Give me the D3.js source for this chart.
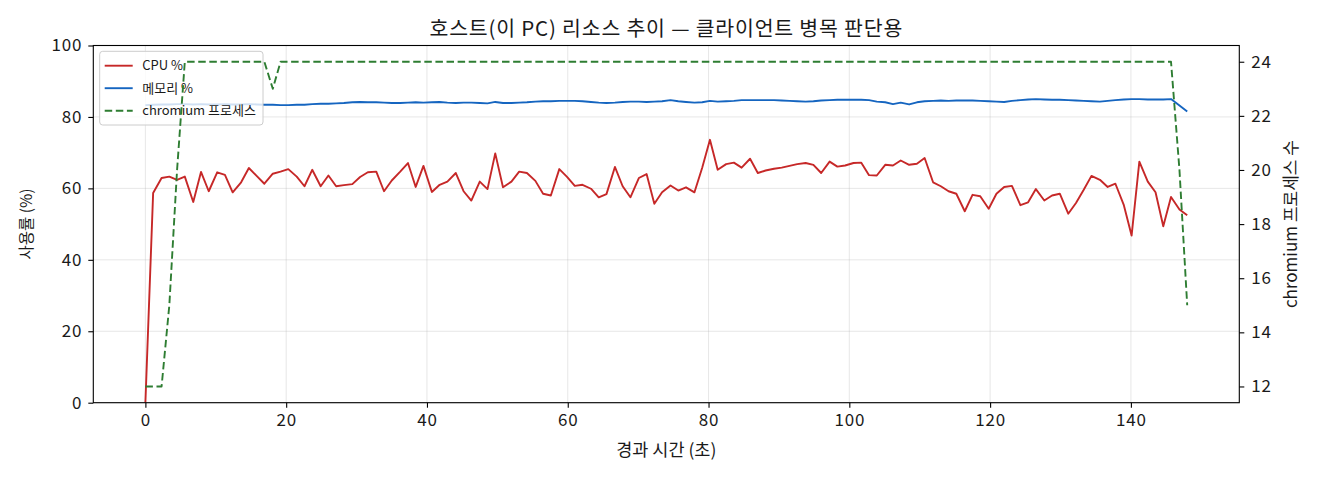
<!DOCTYPE html>
<html>
<head>
<meta charset="utf-8">
<script src="https://cdn.jsdelivr.net/npm/d3@7"></script>
<style>
    html, body { margin: 0; padding: 0; background: #fff; }
    svg { display: block; }
</style>
</head>
<body>
<svg id="chart"></svg>
<script>
// elapsed seconds of each sample
const elapsedSec = [
    0.0, 1.1, 2.3, 3.4, 4.5, 5.6, 6.8, 7.9, 9.0, 10.2,
    11.3, 12.4, 13.6, 14.7, 15.8, 16.9, 18.1, 19.2, 20.3, 21.5,
    22.6, 23.7, 24.9, 26.0, 27.1, 28.2, 29.4, 30.5, 31.6, 32.8,
    33.9, 35.0, 36.2, 37.3, 38.4, 39.5, 40.7, 41.8, 42.9, 44.1,
    45.2, 46.3, 47.5, 48.6, 49.7, 50.8, 52.0, 53.1, 54.2, 55.4,
    56.5, 57.6, 58.8, 59.9, 61.0, 62.1, 63.3, 64.4, 65.5, 66.7,
    67.8, 68.9, 70.1, 71.2, 72.3, 73.4, 74.6, 75.7, 76.8, 78.0,
    79.1, 80.2, 81.3, 82.5, 83.6, 84.7, 85.9, 87.0, 88.1, 89.3,
    90.4, 91.5, 92.6, 93.8, 94.9, 96.0, 97.2, 98.3, 99.4, 100.6,
    101.7, 102.8, 103.9, 105.1, 106.2, 107.3, 108.5, 109.6, 110.7, 111.9,
    113.0, 114.1, 115.2, 116.4, 117.5, 118.6, 119.8, 120.9, 122.0, 123.1,
    124.3, 125.4, 126.5, 127.7, 128.8, 129.9, 131.1, 132.2, 133.3, 134.4,
    135.6, 136.7, 137.8, 139.0, 140.1, 141.2, 142.4, 143.5, 144.6, 145.7,
    146.9, 148.0
];

const cpuPct = [
    0, 58.7, 62.9, 63.3, 62.4, 63.3, 56.2, 64.6, 59.2, 64.5,
    63.8, 58.9, 61.7, 65.7, 63.5, 61.3, 64.1, 64.7, 65.4, 63.3,
    60.6, 65.2, 60.6, 63.6, 60.6, 60.9, 61.2, 63.2, 64.5, 64.7,
    59.2, 62.2, 64.7, 67.1, 60.4, 66.3, 59.0, 61.0, 61.9, 64.3,
    59.2, 56.6, 61.9, 59.8, 69.8, 60.3, 61.9, 64.7, 64.3, 62.1,
    58.5, 58.0, 65.4, 63.2, 60.7, 61.0, 59.9, 57.5, 58.4, 66.0,
    60.6, 57.5, 62.9, 64.0, 55.7, 58.9, 60.8, 59.4, 60.3, 58.9,
    65.8, 73.6, 65.2, 66.8, 67.2, 65.8, 68.3, 64.3, 65.0, 65.5,
    65.8, 66.3, 66.8, 67.1, 66.6, 64.3, 67.5, 66.1, 66.4, 67.1,
    67.2, 63.7, 63.6, 66.6, 66.4, 67.8, 66.6, 66.9, 68.5, 61.7,
    60.6, 59.2, 58.5, 53.6, 58.2, 57.8, 54.3, 58.5, 60.4, 60.7,
    55.3, 56.1, 59.8, 56.6, 58.0, 58.5, 52.9, 55.9, 59.6, 63.5,
    62.4, 60.4, 61.3, 55.3, 46.8, 67.5, 61.9, 58.9, 49.4, 57.6,
    54.1, 52.5
];

const memPct = [
    83.3, 83.4, 83.5, 83.5, 83.6, 83.6, 83.5, 83.6, 83.5, 83.5,
    83.6, 83.5, 83.5, 83.6, 83.5, 83.4, 83.4, 83.3, 83.3, 83.4,
    83.4, 83.6, 83.7, 83.7, 83.8, 83.9, 84.1, 84.2, 84.1, 84.1,
    84.0, 83.9, 83.9, 84.0, 84.1, 84.0, 84.1, 84.2, 84.0, 83.9,
    84.0, 84.0, 83.9, 83.8, 84.2, 83.9, 83.9, 84.0, 84.1, 84.3,
    84.4, 84.4, 84.5, 84.5, 84.5, 84.4, 84.2, 84.0, 83.9, 84.0,
    84.2, 84.3, 84.3, 84.2, 84.3, 84.4, 84.7, 84.4, 84.2, 84.0,
    84.1, 84.5, 84.3, 84.4, 84.5, 84.7, 84.7, 84.7, 84.7, 84.7,
    84.6, 84.5, 84.4, 84.3, 84.4, 84.6, 84.7, 84.8, 84.8, 84.8,
    84.8, 84.7, 84.3, 84.1, 83.6, 84.0, 83.5, 84.1, 84.4, 84.5,
    84.6, 84.5, 84.6, 84.6, 84.6, 84.5, 84.4, 84.3, 84.2, 84.5,
    84.7, 84.9, 85.0, 84.9, 84.8, 84.8, 84.7, 84.6, 84.5, 84.4,
    84.3, 84.5, 84.7, 84.9, 85.0, 85.0, 84.9, 84.9, 84.9, 85.0,
    83.2, 81.5
];

const chromiumProcs = [
    12, 12, 12, 15, 20, 24, 24, 24, 24, 24,
    24, 24, 24, 24, 24, 24, 23, 24, 24, 24,
    24, 24, 24, 24, 24, 24, 24, 24, 24, 24,
    24, 24, 24, 24, 24, 24, 24, 24, 24, 24,
    24, 24, 24, 24, 24, 24, 24, 24, 24, 24,
    24, 24, 24, 24, 24, 24, 24, 24, 24, 24,
    24, 24, 24, 24, 24, 24, 24, 24, 24, 24,
    24, 24, 24, 24, 24, 24, 24, 24, 24, 24,
    24, 24, 24, 24, 24, 24, 24, 24, 24, 24,
    24, 24, 24, 24, 24, 24, 24, 24, 24, 24,
    24, 24, 24, 24, 24, 24, 24, 24, 24, 24,
    24, 24, 24, 24, 24, 24, 24, 24, 24, 24,
    24, 24, 24, 24, 24, 24, 24, 24, 24, 24,
    20, 15
];

const xTicks = [0, 20, 40, 60, 80, 100, 120, 140];
const pctTicks = [0, 20, 40, 60, 80, 100];
const procTicks = [12, 14, 16, 18, 20, 22, 24];
const seriesNames = ['CPU %', '메모리 %', 'chromium 프로세스'];

const titleText = '호스트(이 PC) 리소스 추이 — 클라이언트 병목 판단용';
const xLabel = '경과 시간 (초)';
const yLabel = '사용률 (%)';
const y2Label = 'chromium 프로세스 수';

function zip(values) {
    return elapsedSec.map(function (t, i) { return { t: t, v: values[i] }; });
}

function prepareScales(settings) {
    settings.x = d3.scaleLinear().domain([-7.4, 155.4]).range([0, settings.width]);
    settings.y = d3.scaleLinear().domain([0, 100]).range([settings.height, 0]);
    settings.y2 = d3.scaleLinear().domain([11.4, 24.6]).range([settings.height, 0]);
}

function drawGrid(settings) {
    let grid = settings.g.append('g');
    grid.selectAll('.vgrid').data(xTicks).enter().append('line')
        .attr('x1', function (d) { return settings.x(d); })
        .attr('x2', function (d) { return settings.x(d); })
        .attr('y1', 0).attr('y2', settings.height)
        .style('stroke', '#b0b0b0').style('stroke-opacity', 0.3).style('stroke-width', 1);
    grid.selectAll('.hgrid').data(pctTicks).enter().append('line')
        .attr('x1', 0).attr('x2', settings.width)
        .attr('y1', function (d) { return settings.y(d); })
        .attr('y2', function (d) { return settings.y(d); })
        .style('stroke', '#b0b0b0').style('stroke-opacity', 0.3).style('stroke-width', 1);
}

function drawSeries(settings, layer, values, scale, color, dash) {
    let line = d3.line()
        .x(function (d) { return settings.x(d.t); })
        .y(function (d) { return scale(d.v); });
    let path = layer.append('path')
        .datum(zip(values))
        .attr('d', line)
        .style('fill', 'none')
        .style('stroke', color)
        .style('stroke-width', 1.9)
        .style('stroke-linejoin', 'round');
    if (dash) {
        path.style('stroke-dasharray', dash);
    }
}

function drawLegend(settings) {
    let lg = settings.g.append('g').attr('transform', 'translate(6.4,5.8)');
    lg.append('rect')
        .attr('width', 163.3).attr('height', 73.7)
        .attr('rx', 3).attr('ry', 3)
        .style('fill', '#fff').style('fill-opacity', 0.8)
        .style('stroke', '#cccccc').style('stroke-width', 1);

    let colors = [settings.style.cpuColor, settings.style.memColor, settings.style.procColor];
    let dashes = [null, null, settings.style.dash];
    seriesNames.forEach(function (name, i) {
        let cy = 14.4 + i * 22.5;
        let l = lg.append('line')
            .attr('x1', 5).attr('x2', 33)
            .attr('y1', cy).attr('y2', cy)
            .style('stroke', colors[i]).style('stroke-width', 1.9);
        if (dashes[i]) {
            l.style('stroke-dasharray', dashes[i]);
        }
        lg.append('text')
            .attr('x', 42.6).attr('y', cy)
            .attr('dy', '0.35em')
            .style('font-size', settings.legendFontSize + 'px')
            .style('fill', settings.style.color)
            .text(name);
    });
}

function drawAxis(settings) {
    let tickFont = settings.fontSize + 'px';

    let bottom = settings.g.append('g')
        .attr('transform', 'translate(0,' + settings.height + ')')
        .call(d3.axisBottom(settings.x).tickValues(xTicks).tickSizeInner(5).tickSizeOuter(0).tickPadding(6));
    let left = settings.g.append('g')
        .call(d3.axisLeft(settings.y).tickValues(pctTicks).tickSizeInner(5).tickSizeOuter(0).tickPadding(6));
    let right = settings.g.append('g')
        .attr('transform', 'translate(' + settings.width + ',0)')
        .call(d3.axisRight(settings.y2).tickValues(procTicks).tickSizeInner(5).tickSizeOuter(0).tickPadding(7));

    [bottom, left, right].forEach(function (ax) {
        ax.select('.domain').remove();
        ax.selectAll('text')
            .style('font-family', settings.fontFamily)
            .style('font-size', tickFont)
            .style('letter-spacing', '0.8px')
            .style('fill', settings.style.color);
        ax.selectAll('line').style('stroke', '#000').style('stroke-width', 1.1);
    });

    // spines
    settings.g.append('rect')
        .attr('width', settings.width).attr('height', settings.height)
        .style('fill', 'none').style('stroke', '#000').style('stroke-width', 1.1);
}

function drawLabels(settings) {
    let svg = settings.d3svg;
    svg.append('text')
        .attr('x', settings.margin.left + settings.width / 2).attr('y', 36)
        .attr('text-anchor', 'middle')
        .style('font-size', settings.titleFontSize + 'px')
        .style('letter-spacing', '0.8px')
        .style('fill', settings.style.color)
        .text(titleText);
    svg.append('text')
        .attr('x', settings.margin.left + settings.width / 2).attr('y', 456)
        .attr('text-anchor', 'middle')
        .style('font-size', '17.5px')
        .style('fill', settings.style.color)
        .text(xLabel);
    svg.append('text')
        .attr('transform', 'translate(31.5,' + (settings.margin.top + settings.height / 2) + ') rotate(-90)')
        .attr('text-anchor', 'middle')
        .style('font-size', '15.5px')
        .style('fill', settings.style.color)
        .text(yLabel);
    svg.append('text')
        .attr('transform', 'translate(1297,' + (settings.margin.top + settings.height / 2) + ') rotate(-90)')
        .attr('text-anchor', 'middle')
        .style('font-size', '17px')
        .style('fill', settings.style.color)
        .text(y2Label);
}

function drawChart(settings) {
    settings.d3svg = d3.select(settings.svg)
        .attr('width', settings.outerWidth)
        .attr('height', settings.outerHeight)
        .style('font-family', settings.fontFamily);
    settings.width = settings.outerWidth - settings.margin.left - settings.margin.right;
    settings.height = settings.outerHeight - settings.margin.top - settings.margin.bottom;

    settings.d3svg.append('rect')
        .attr('width', settings.outerWidth).attr('height', settings.outerHeight)
        .style('fill', '#fff');

    settings.g = settings.d3svg.append('g')
        .attr('transform', 'translate(' + settings.margin.left + ',' + settings.margin.top + ')');

    prepareScales(settings);
    drawGrid(settings);

    let main = settings.g.append('g');
    drawSeries(settings, main, cpuPct, settings.y, settings.style.cpuColor);
    drawSeries(settings, main, memPct, settings.y, settings.style.memColor);
    drawLegend(settings);

    let twin = settings.g.append('g');
    drawSeries(settings, twin, chromiumProcs, settings.y2, settings.style.procColor, settings.style.dash);

    drawAxis(settings);
    drawLabels(settings);
}

drawChart({
    svg: document.getElementById('chart'),
    outerWidth: 1320,
    outerHeight: 480,
    margin: { left: 93.3, top: 45.5, right: 80.7, bottom: 77.3 },
    fontFamily: "'Noto Sans CJK KR', 'Noto Sans', sans-serif",
    fontSize: 17,
    titleFontSize: 20.5,
    legendFontSize: 13,
    style: {
        color: '#1a1a1a',
        cpuColor: '#c62828',
        memColor: '#1565c0',
        procColor: '#2e7d32',
        dash: '7.5,3.6'
    }
});
</script>
</body>
</html>
